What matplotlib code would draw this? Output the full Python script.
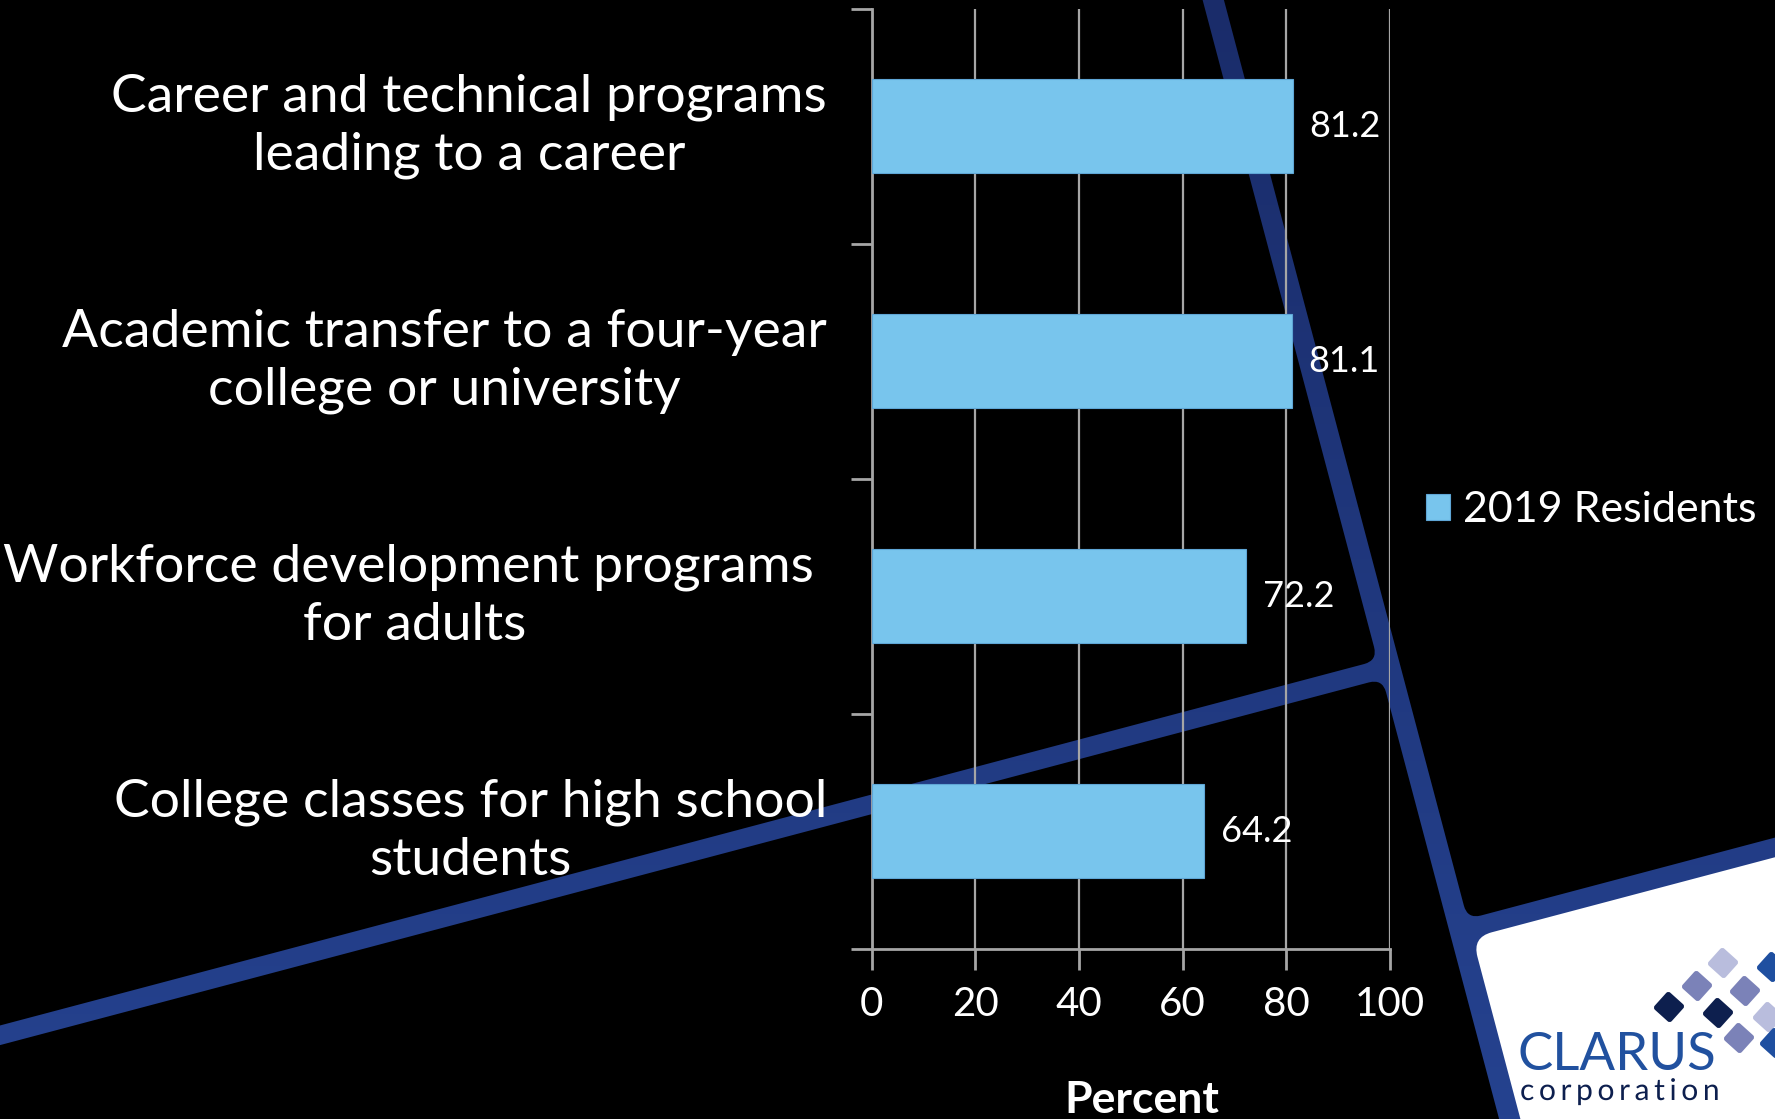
import numpy as np
import matplotlib.pyplot as plt
from matplotlib.patches import FancyBboxPatch, PathPatch
from matplotlib.transforms import Affine2D
from matplotlib.colors import LinearSegmentedColormap
from matplotlib.font_manager import FontProperties
from matplotlib.textpath import TextPath, text_to_path

categories = [
    "Career and technical programs\nleading to a career",
    "Academic transfer to a four-year\ncollege or university",
    "Workforce development programs \nfor adults",
    "College classes for high school\nstudents",
]
residents_2019 = [81.2, 81.1, 72.2, 64.2]
series_name = "2019 Residents"
x_ticks = [0, 20, 40, 60, 80, 100]

W, H = 1775, 1119
BAR = "#78c5ed"
GRID = "#a6a6a6"

plt.rcParams["font.family"] = ["Lato", "DejaVu Sans"]

fig = plt.figure(figsize=(W / 100, H / 100), dpi=100, facecolor="black")

# backdrop: blue bands on a tilted grid, black panes and the white logo card
bg = fig.add_axes([0, 0, 1, 1], zorder=0)
band = LinearSegmentedColormap.from_list("band", ["#1a2c6a", "#25428f"])
bg.imshow(np.linspace(0, 1, 256)[:, None], cmap=band,
          extent=(0, W, H, 0), aspect="auto")
bg.set_xlim(0, W)
bg.set_ylim(H, 0)
bg.axis("off")

phi = 14.84
tilt = Affine2D().rotate_deg(-phi).translate(1390, 667) + bg.transData
big = 3000
half_a, half_b, half_c = 10.3, 9.5, 9.5
v_c = 273


def pane(u0, v0, u1, v1, color, r=14):
    bg.add_patch(FancyBboxPatch((u0, v0), u1 - u0, v1 - v0,
                                boxstyle=f"round,pad=0,rounding_size={r}",
                                fc=color, ec="none", transform=tilt))


pane(-big, -big, -half_a, -half_b, "black")
pane(-big, half_b, -half_a, big, "black")
pane(half_a, -big, big, v_c - half_c, "black")
pane(half_a, v_c + half_c, big, big, "white", r=20)

# logo
navy, mid, light, blue = "#0d1f4e", "#7b82b8", "#b9bddd", "#1f4fa0"
diamonds = [
    ((1723, 963), light), ((1697, 986), mid), ((1669, 1007), navy),
    ((1718, 1013), navy), ((1745, 991), mid), ((1768, 1017), light),
    ((1739, 1038), mid), ((1772, 967), blue), ((1775, 1043), blue),
]
for (cx, cy), c in diamonds:
    bg.add_patch(FancyBboxPatch((-11.5, -11.5), 23, 23,
                                boxstyle="round,pad=0,rounding_size=3",
                                fc=c, ec="none",
                                transform=Affine2D().rotate_deg(42).translate(cx, cy) + bg.transData))
bg.text(1617, 1055, "CLARUS", color="#21519f", fontsize=38,
        ha="center", va="center")

# tracked-out wordmark, drawn glyph by glyph
word = "corporation"
fp = FontProperties(family="Lato", size=30)
track = 4.6
for k, ch in enumerate(word):
    adv = text_to_path.get_text_width_height_descent(word[:k], fp, ismath=False)[0] if k else 0
    glyph = TextPath((adv + k * track, 0), ch, prop=fp)
    bg.add_patch(PathPatch(glyph, fc=navy, ec="none",
                           transform=Affine2D().scale(1, -1).translate(1520, 1100) + bg.transData))

# chart
ax = fig.add_axes([871.6 / W, 1 - 948.6 / H, (1390 - 871.6) / W, (948.6 - 9) / H],
                  zorder=1)
ax.patch.set_alpha(0)
y = np.arange(len(categories))
bars = ax.barh(y, residents_2019, height=0.4, color=BAR, edgecolor="#5fa6d6",
               linewidth=0.8, label=series_name, zorder=3)

for i, v in enumerate(residents_2019):
    ax.annotate(f"{v:.1f}", (v, i), xytext=(12, 0), textcoords="offset points",
                va="center", ha="left", color="white", fontsize=26, zorder=4)

ax.set_xlim(0, 100)
ax.set_ylim(len(categories) - 0.5, -0.5)
ax.set_xticks(x_ticks)
ax.set_yticks(np.arange(len(categories) + 1) - 0.5)
ax.set_yticklabels([])
ax.set_yticks(y, minor=True)
ax.set_yticklabels(categories, minor=True, multialignment="center",
                   va="center", linespacing=1.28)

ax.tick_params(axis="y", which="major", length=15, width=2, color=GRID)
ax.tick_params(axis="y", which="minor", length=0, pad=32, labelsize=38.5,
               labelcolor="white")
ax.tick_params(axis="x", length=15, width=2, color=GRID, pad=12,
               labelsize=29, labelcolor="white")

ax.xaxis.grid(True, color=GRID, linewidth=1.6)
ax.set_axisbelow(True)
for side in ("top", "right"):
    ax.spines[side].set_visible(False)
for side in ("left", "bottom"):
    ax.spines[side].set_color(GRID)
    ax.spines[side].set_linewidth(2)

ax.set_xlabel("Percent", fontsize=32, fontweight="bold", color="white", va="center")
ax.xaxis.set_label_coords((1142 - 871.6) / (1390 - 871.6), (948.6 - 1100) / (948.6 - 9))

fig.legend(handles=[bars], labels=[series_name], loc="center left",
           bbox_to_anchor=(1426 / W, 1 - 510 / H), frameon=False, fontsize=31,
           labelcolor="white", handlelength=0.55, handleheight=0.55,
           handletextpad=0.3, borderpad=0, borderaxespad=0)

fig.savefig("out.png", dpi=100, facecolor="black")
